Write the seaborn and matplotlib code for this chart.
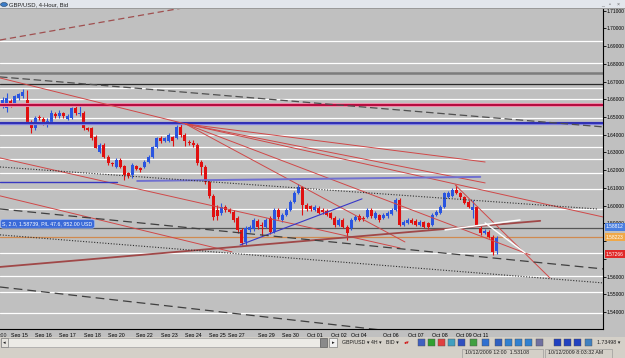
import numpy as np
import pandas as pd
import matplotlib
matplotlib.use("Agg")
import matplotlib.pyplot as plt
import matplotlib.patches as mpatches
import matplotlib.transforms as mtransforms
import seaborn as sns

# ---------------- data ----------------
opens = [
    1.6562, 1.6551, 1.6590, 1.6573, 1.6607, 1.6619, 1.6596, 1.6472, 1.6438, 1.6500,
    1.6489, 1.6466, 1.6472, 1.6517, 1.6506, 1.6523, 1.6489, 1.6494, 1.6551, 1.6517,
    1.6523, 1.6438, 1.6438, 1.6387, 1.6303, 1.6342, 1.6275, 1.6241, 1.6218, 1.6258,
    1.6224, 1.6184, 1.6173, 1.6224, 1.6212, 1.6218, 1.6246, 1.6275, 1.6331, 1.6382,
    1.6365, 1.6365, 1.6387, 1.6382, 1.6444, 1.6399, 1.6359, 1.6353, 1.6342, 1.6246,
    1.6218, 1.6134, 1.6055, 1.5976, 1.5959, 1.5993, 1.5976, 1.5964, 1.5931, 1.5863,
    1.5795, 1.5863, 1.5868, 1.5914, 1.5891, 1.5880, 1.5931, 1.5852, 1.5976, 1.5919,
    1.5947, 1.5976, 1.6021, 1.6071, 1.6105, 1.6004, 1.5998, 1.5976, 1.5987, 1.5976,
    1.5970, 1.5959, 1.5931, 1.5891, 1.5919, 1.5880, 1.5874, 1.5919, 1.5942, 1.5931,
    1.5936, 1.5976, 1.5931, 1.5947, 1.5931, 1.5942, 1.5953, 1.5976, 1.6032, 1.5891,
    1.5902, 1.5919, 1.5914, 1.5891, 1.5908, 1.5902, 1.5891, 1.5947, 1.5959, 1.5993,
    1.6049, 1.6055, 1.6088, 1.6071, 1.6049, 1.6021, 1.5976, 1.5993, 1.5874, 1.5846,
    1.5852, 1.5823, 1.5744]
closes = [
    1.6596, 1.6607, 1.6568, 1.6619, 1.6630, 1.6641, 1.6472, 1.6438, 1.6494, 1.6494,
    1.6466, 1.6478, 1.6523, 1.6506, 1.6523, 1.6506, 1.6506, 1.6551, 1.6523, 1.6523,
    1.6438, 1.6427, 1.6382, 1.6325, 1.6342, 1.6275, 1.6241, 1.6235, 1.6258, 1.6218,
    1.6173, 1.6167, 1.6229, 1.6207, 1.6201, 1.6246, 1.6275, 1.6331, 1.6382, 1.6365,
    1.6382, 1.6399, 1.6365, 1.6444, 1.6399, 1.6365, 1.6353, 1.6342, 1.6241, 1.6218,
    1.6134, 1.6055, 1.5936, 1.5942, 1.5993, 1.5976, 1.5964, 1.5919, 1.5863, 1.5789,
    1.5874, 1.5880, 1.5919, 1.5880, 1.5885, 1.5919, 1.5852, 1.5976, 1.5936, 1.5947,
    1.5976, 1.6021, 1.6071, 1.6105, 1.6004, 1.5981, 1.5981, 1.5993, 1.5959, 1.5964,
    1.5947, 1.5931, 1.5891, 1.5919, 1.5880, 1.5846, 1.5919, 1.5936, 1.5919, 1.5925,
    1.5976, 1.5942, 1.5959, 1.5919, 1.5947, 1.5959, 1.5976, 1.6032, 1.5891, 1.5908,
    1.5919, 1.5902, 1.5891, 1.5908, 1.5880, 1.5880, 1.5947, 1.5964, 1.5993, 1.6071,
    1.6071, 1.6088, 1.6071, 1.6049, 1.6015, 1.5993, 1.5993, 1.5891, 1.5846, 1.5857,
    1.5823, 1.5739, 1.5818]
highs = [
    1.6613, 1.6636, 1.6602, 1.6624, 1.6636, 1.6658, 1.6652, 1.6483, 1.6506, 1.6511,
    1.6500, 1.6494, 1.6540, 1.6528, 1.6540, 1.6528, 1.6517, 1.6557, 1.6562, 1.6568,
    1.6534, 1.6444, 1.6444, 1.6399, 1.6353, 1.6353, 1.6286, 1.6246, 1.6269, 1.6269,
    1.6229, 1.6190, 1.6241, 1.6229, 1.6218, 1.6258, 1.6286, 1.6337, 1.6387, 1.6393,
    1.6387, 1.6410, 1.6393, 1.6455, 1.6466, 1.6410, 1.6370, 1.6370, 1.6353, 1.6258,
    1.6229, 1.6145, 1.6066, 1.6004, 1.6015, 1.6004, 1.5987, 1.5976, 1.5942, 1.5874,
    1.5885, 1.5891, 1.5931, 1.5925, 1.5908, 1.5931, 1.5942, 1.5987, 1.5987, 1.5959,
    1.5987, 1.6032, 1.6083, 1.6122, 1.6111, 1.6015, 1.6004, 1.6004, 1.5998, 1.5987,
    1.5981, 1.5964, 1.5942, 1.5931, 1.5931, 1.5891, 1.5931, 1.5947, 1.5953, 1.5942,
    1.5987, 1.5987, 1.5970, 1.5953, 1.5959, 1.5970, 1.5987, 1.6043, 1.6043, 1.5919,
    1.5931, 1.5931, 1.5925, 1.5919, 1.5914, 1.5908, 1.5959, 1.5976, 1.6004, 1.6077,
    1.6083, 1.6100, 1.6117, 1.6077, 1.6055, 1.6032, 1.6032, 1.5998, 1.5885, 1.5868,
    1.5863, 1.5835, 1.5829]
lows = [
    1.6551, 1.6528, 1.6557, 1.6562, 1.6596, 1.6607, 1.6466, 1.6410, 1.6427, 1.6483,
    1.6455, 1.6444, 1.6461, 1.6494, 1.6494, 1.6494, 1.6483, 1.6489, 1.6511, 1.6506,
    1.6427, 1.6421, 1.6370, 1.6325, 1.6297, 1.6269, 1.6229, 1.6224, 1.6212, 1.6212,
    1.6145, 1.6156, 1.6156, 1.6201, 1.6190, 1.6212, 1.6241, 1.6269, 1.6325, 1.6353,
    1.6359, 1.6359, 1.6337, 1.6376, 1.6387, 1.6337, 1.6342, 1.6331, 1.6229, 1.6173,
    1.6122, 1.6043, 1.5919, 1.5919, 1.5947, 1.5964, 1.5959, 1.5908, 1.5846, 1.5778,
    1.5778, 1.5852, 1.5857, 1.5868, 1.5829, 1.5874, 1.5840, 1.5846, 1.5925, 1.5908,
    1.5942, 1.5970, 1.6015, 1.6066, 1.5947, 1.5970, 1.5970, 1.5970, 1.5953, 1.5953,
    1.5942, 1.5925, 1.5880, 1.5885, 1.5874, 1.5806, 1.5863, 1.5914, 1.5914, 1.5914,
    1.5931, 1.5931, 1.5925, 1.5908, 1.5925, 1.5931, 1.5947, 1.5970, 1.5885, 1.5885,
    1.5897, 1.5897, 1.5885, 1.5885, 1.5874, 1.5868, 1.5885, 1.5942, 1.5953, 1.5987,
    1.6043, 1.6049, 1.6066, 1.6038, 1.6009, 1.5987, 1.5931, 1.5885, 1.5835, 1.5840,
    1.5818, 1.5722, 1.5727]

# date labels on the time axis (bar index where each day starts)
day_bars = [2, 8, 14, 20, 26, 33, 39, 45, 51, 55.6, 63, 69, 75, 81, 86, 94, 100, 106, 112, 116]
day_labels = ["Sep 15", "Sep 16", "Sep 17", "Sep 18", "Sep 20", "Sep 22", "Sep 23",
              "Sep 24", "Sep 25", "Sep 27", "Sep 29", "Sep 30", "Oct 01", "Oct 02",
              "Oct 04", "Oct 06", "Oct 07", "Oct 08", "Oct 09", "Oct 11"]
future_ticks = [128.2, 133.2, 138.3, 143.3]

# price axis (1.58 and 1.57 labels are hidden behind the price tags)
price_ticks = [1.54, 1.55, 1.56, 1.57, 1.58, 1.59, 1.60, 1.61, 1.62, 1.63,
               1.64, 1.65, 1.66, 1.67, 1.68, 1.69, 1.70, 1.71]
hidden_ticks = [1.57, 1.58]

# horizontal levels drawn on the chart
white_levels = [1.6929, 1.6805, 1.6664, 1.6602, 1.6494, 1.6399, 1.6331, 1.6263,
                1.6184, 1.6094, 1.5981, 1.5733, 1.5603, 1.5513, 1.5395]
gray_level = 1.6748
black_level = 1.6686
magenta_level = 1.6568
blue_level = 1.6466
order_level = 1.5875
orange_level = 1.5822

# trend lines: start bar, start price, end bar, end price
trend_x0 = [-0.67, -0.67, -0.67, 45.1, 45.1, 45.1, 45.1, 45.1, -0.67, -0.67,
            -0.67, 111.7, -0.67, 33.2, 58.6, -0.67, -0.67, -0.67, -0.67, 109.2, 119.1]
trend_y0 = [1.6934, 1.6726, 1.6720, 1.6461, 1.6461, 1.6461, 1.6461, 1.6461, 1.6269, 1.6055,
            1.5654, 1.6117, 1.6134, 1.6139, 1.5778, 1.6218, 1.5835, 1.5981, 1.5541, 1.5863, 1.5902]
trend_x1 = [48.7, 148.2, 45.1, 119.1, 119.1, 148.2, 130.2, 99.3, 98.1, 56.6,
            132.7, 135.1, 28.2, 117.9, 88.7, 146.7, 148.2, 148.2, 93.2, 127.7, 129.0]
trend_y1 = [1.7132, 1.6444, 1.6461, 1.6246, 1.6128, 1.5936, 1.5722, 1.5795, 1.5761, 1.5739,
            1.5914, 1.5592, 1.6134, 1.6162, 1.6038, 1.5981, 1.5564, 1.5643, 1.5299, 1.5919, 1.5733]

# price tags on the right scale
tag_prices = [1.58812, 1.58223, 1.57266]
tag_texts = ["1.58812", "1.58223", "1.57266"]

# ---------------- styles ----------------
BG = "#c0c0c0"
UP = "#2a55e0"
DOWN = "#e01010"
RED_LINE = "#d04848"
trend_colors = ["#a05050", "#505050", RED_LINE, RED_LINE, RED_LINE, RED_LINE, RED_LINE,
                RED_LINE, RED_LINE, RED_LINE, "#a04848", RED_LINE, "#3838c0", "#7070d0",
                "#3838c8", "#303030", "#303030", "#404040", "#404040", "white", "white"]
trend_styles = [(0, (5, 3)), (0, (6, 3)), "-", "-", "-", "-", "-", "-", "-", "-", "-", "-",
                "-", "-", "-", (0, (1, 1.5)), (0, (1, 1.5)), (0, (7, 4)), (0, (7, 4)), "-", "-"]
trend_widths = [0.9, 0.9, 0.7, 0.7, 0.7, 0.7, 0.7, 0.7, 0.7, 0.7, 1.3, 0.7, 1.0, 1.4,
                0.8, 0.8, 0.8, 0.9, 0.9, 1.1, 1.0]
tag_colors = ["#4a7fe0", "#f0a848", "#e02828"]
FS = 3.8
FS_Y = 3.5

sns.set_style("white")
plt.rcParams["font.family"] = ["Liberation Sans", "DejaVu Sans"]

W, H = 625, 358
fig = plt.figure(figsize=(W / 100, H / 100), dpi=100)
fig.patch.set_facecolor(BG)

def fx(px):
    return px / W

def fy(py):
    return 1 - py / H

ax = fig.add_axes([0, fy(329), fx(603), (329 - 9) / H])
ax.set_facecolor(BG)

df = pd.DataFrame({"bar": np.arange(len(opens)), "open": opens, "high": highs,
                   "low": lows, "close": closes})
df["up"] = df["close"] >= df["open"]
df["color"] = np.where(df["up"], UP, DOWN)
df["body_lo"] = df[["open", "close"]].min(axis=1)
df["body_h"] = np.maximum((df["close"] - df["open"]).abs(), 0.00035)

# horizontal levels
for lv in white_levels:
    ax.axhline(lv, color="white", lw=0.9, zorder=1)
ax.axhline(gray_level, color="#7c7c7c", lw=1.8, zorder=1)
ax.axhline(black_level, color="#2a2a2a", lw=0.9, zorder=1)
ax.axhline(order_level, color="#555555", lw=0.9, zorder=1)
ax.axhline(orange_level, color="#d08a50", lw=0.9, zorder=1)

# candles
ax.vlines(df["bar"], df["low"], df["high"], colors=df["color"], lw=0.8, zorder=2)
ax.bar(df["bar"], df["body_h"], bottom=df["body_lo"], width=0.74, color=df["color"],
       linewidth=0, zorder=2)

# strong horizontal lines on top
ax.axhline(magenta_level, color="#f08aa8", lw=2.8, zorder=3)
ax.axhline(magenta_level, color="#b00035", lw=1.3, zorder=3)
ax.axhline(blue_level, color="#8080e0", lw=2.4, zorder=3)
ax.axhline(blue_level, color="#2828b0", lw=1.3, zorder=3)

# trend lines with seaborn
for i in range(len(trend_x0)):
    sns.lineplot(x=[trend_x0[i], trend_x1[i]], y=[trend_y0[i], trend_y1[i]], ax=ax,
                 color=trend_colors[i], linestyle=trend_styles[i], lw=trend_widths[i],
                 estimator=None, sort=False, zorder=4)

ax.set_xlim(-0.67, 148.2)
ax.set_ylim(1.5304, 1.7109)
ax.set_xlabel("")
ax.set_ylabel("")

for s in ["left", "top"]:
    ax.spines[s].set_visible(False)
for s in ["right", "bottom"]:
    ax.spines[s].set_visible(True)
    ax.spines[s].set_color("black")
    ax.spines[s].set_linewidth(0.8)

ax.yaxis.tick_right()
ax.set_yticks(price_ticks)
ax.set_yticklabels(["" if p in hidden_ticks else f"{p:.5f}" for p in price_ticks])
ax.set_xticks(day_bars)
ax.set_xticklabels(day_labels)
ax.set_xticks(future_ticks, minor=True)
ax.tick_params(axis="both", which="both", direction="out", length=2.2, width=0.6,
               colors="black", labelsize=FS, pad=1.0)
ax.tick_params(axis="y", labelsize=FS_Y, pad=0.6)
for lbl in ax.get_xticklabels():
    lbl.set_horizontalalignment("left")
ax.text(0.0, -0.012, ":00", transform=ax.transAxes, ha="left", va="top", fontsize=FS)

# price tags
trans = mtransforms.blended_transform_factory(ax.transAxes, ax.transData)
for p, t, c in zip(tag_prices, tag_texts, tag_colors):
    ax.text(1.005, p, t, transform=trans, ha="left", va="center", fontsize=FS_Y,
            color="white", clip_on=False, zorder=10,
            bbox=dict(boxstyle="square,pad=0.3", fc=c, ec="none"))

# open position label
ax.text(0.004, 1.5897, "S, 2.0, 1.58739, P/L 47.6, 952.00 USD", transform=trans,
        ha="left", va="center", fontsize=FS, color="white", zorder=10,
        bbox=dict(boxstyle="round,pad=0.35,rounding_size=0.4", fc="#3a6ad8", ec="#9ab4f0", lw=0.5))

# ---------------- window chrome ----------------
def rect(x0, y0, x1, y1, fc, ec="none", lw=0.5):
    fig.add_artist(mpatches.Rectangle((fx(x0), fy(y1)), fx(x1) - fx(x0), (y1 - y0) / H,
                                      transform=fig.transFigure, fc=fc, ec=ec, lw=lw))

def label(x, y, s, **kw):
    kw.setdefault("fontsize", FS)
    kw.setdefault("color", "#202020")
    fig.text(fx(x), fy(y), s, ha=kw.pop("ha", "left"), va="center", **kw)

# title bar
rect(0, 0, 625, 9, "#e2e6ec")
rect(0, 8.4, 625, 9.2, "#9a9a9a")
fig.add_artist(mpatches.Circle((fx(4), fy(4.5)), 0.0055, transform=fig.transFigure,
                               fc="#3c7cc8", ec="#204060", lw=0.4))
label(9, 4.5, "GBP/USD, 4-Hour, Bid", fontsize=4.2)
label(601, 4.5, "_", color="#606060")
label(609, 4.5, "\u25ab", color="#606060")
label(617, 4.5, "\u00d7", color="#606060")

# toolbar with scrollbar
rect(0, 337, 625, 347.5, "#d4d0c8")
rect(1, 338, 320, 346.5, "#ecebe6", ec="#a0a0a0")
rect(1, 338, 8, 346.5, "#e6e4de", ec="#808080")
label(4.5, 342.3, "\u25c2", ha="center")
rect(320, 338, 327, 346.5, "#8a8a8a", ec="#606060")
rect(329, 338, 337, 346.5, "#f0f0f0", ec="#808080")
label(333, 342.3, "\u25b8", ha="center")
label(342, 342.3, "GBP/USD \u25be")
label(371, 342.3, "4H \u25be")
label(386, 342.3, "BID \u25be")
label(403, 342.3, "\u25cf\u25be", color="#d02020")
icon_x = [418, 428, 438, 448, 458, 470, 482, 495, 505, 515, 525, 536, 554, 564, 574, 585]
icon_c = ["#4060c0", "#30a030", "#e04040", "#40a0c0", "#3050c0", "#40a040", "#3070d0",
          "#3060c0", "#3080d0", "#3080d0", "#3080d0", "#7070a0", "#2040c0", "#2040c0",
          "#2040c0", "#4080c0"]
for xi, ci in zip(icon_x, icon_c):
    rect(xi, 339, xi + 6.5, 345.5, ci, ec="#505050", lw=0.3)
label(597, 342.3, "1.73498 \u25be")

# status bar
rect(0, 347.5, 625, 358, "#d4d0c8")
rect(462, 348.5, 543, 357.5, "#d4d0c8", ec="#909090", lw=0.4)
rect(545, 348.5, 612, 357.5, "#d4d0c8", ec="#909090", lw=0.4)
label(465, 353, "10/12/2009 12:00  1.53108")
label(548, 353, "10/12/2009 8:03:32 AM")

fig.savefig("out.png", dpi=100, facecolor=fig.get_facecolor())
